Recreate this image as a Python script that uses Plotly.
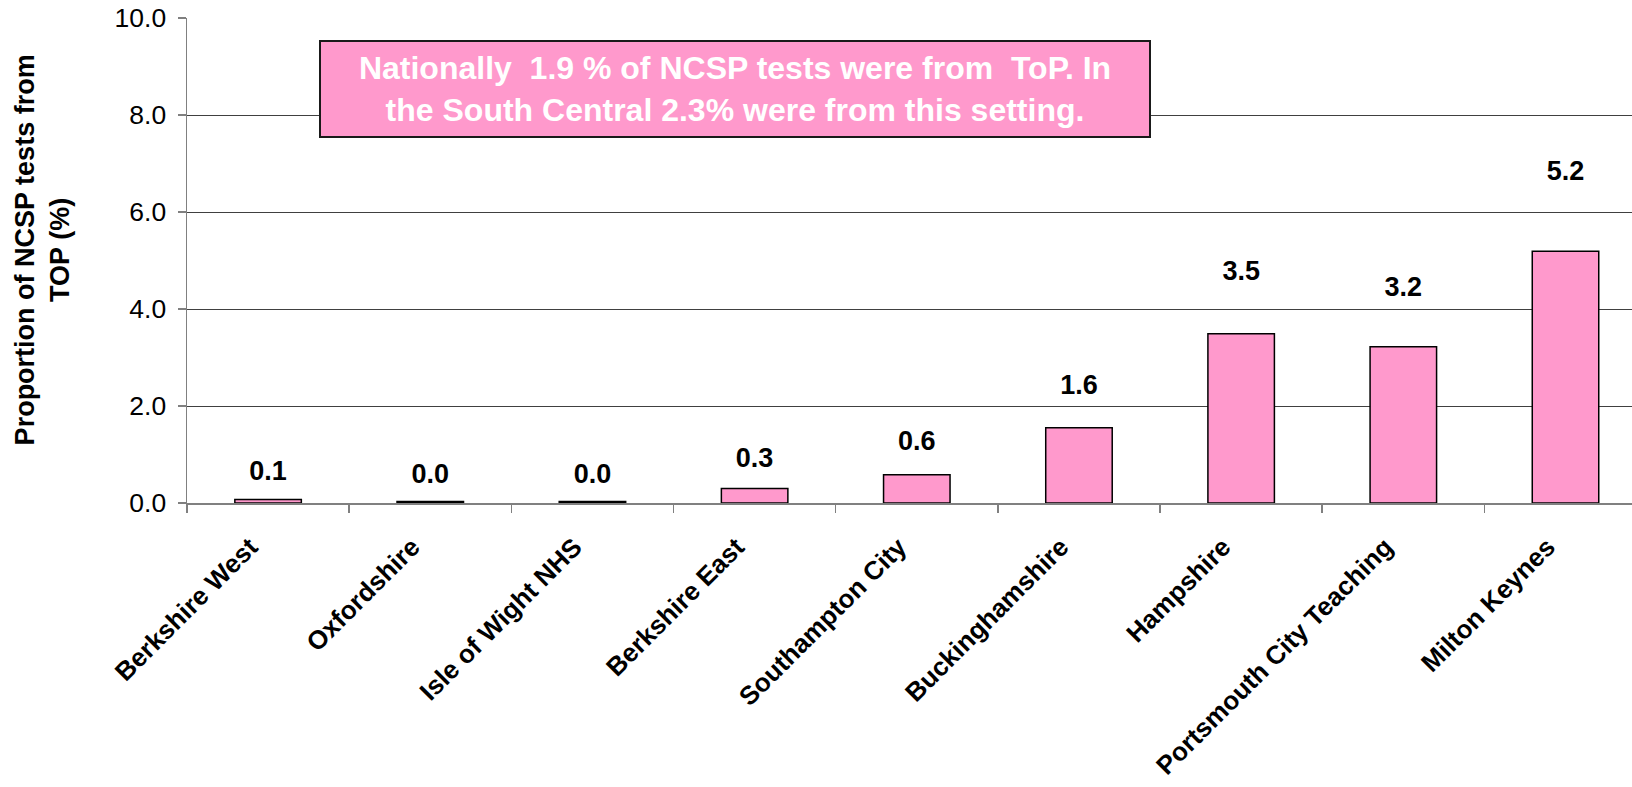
import plotly.graph_objects as go

categories = ["Berkshire West", "Oxfordshire", "Isle of Wight NHS", "Berkshire East",
              "Southampton City", "Buckinghamshire", "Hampshire",
              "Portsmouth City Teaching", "Milton Keynes"]
values = [0.07, 0.03, 0.03, 0.30, 0.58, 1.55, 3.49, 3.22, 5.19]
labels = ["0.1", "0.0", "0.0", "0.3", "0.6", "1.6", "3.5", "3.2", "5.2"]
y_ticks = [0, 2, 4, 6, 8, 10]
note_text = ("Nationally  1.9 % of NCSP tests were from  ToP. In<br>"
             "the South Central 2.3% were from this setting.")
y_title = "Proportion of NCSP tests from<br>TOP (%)"

FONT = "Arial, Liberation Sans, Helvetica, sans-serif"
PINK = "#FF99CC"

fig = go.Figure()
fig.add_trace(go.Bar(
    x=categories, y=values, width=0.41,
    marker=dict(color=PINK, line=dict(color="#000000", width=1.5)),
    hoverinfo="skip", showlegend=False,
))
# data labels, placed above bars as in the original chart
label_y = [v * 1.21 + 0.52 for v in values]
fig.add_trace(go.Scatter(
    x=categories, y=label_y, mode="text", text=labels,
    textposition="middle center",
    textfont=dict(family=FONT, size=27, color="#000000", weight="bold"),
    hoverinfo="skip", showlegend=False, cliponaxis=False,
))

fig.add_annotation(
    xref="paper", yref="paper", x=0.3795, y=0.8546,
    xanchor="center", yanchor="middle",
    text=note_text, showarrow=False, align="center",
    width=828, height=94, borderpad=0, borderwidth=2,
    bgcolor=PINK, bordercolor="#1a1a1a",
    font=dict(family=FONT, size=32, color="#FFFFFF", weight="bold"),
)

# y-axis title as a rotated annotation for precise placement
fig.add_annotation(
    xref="paper", yref="paper", x=-0.1003, y=0.521,
    xanchor="center", yanchor="middle",
    text=y_title, showarrow=False, align="center", textangle=-90,
    font=dict(family=FONT, size=27, color="#000000", weight="bold"),
)

fig.update_layout(
    width=1632, height=787,
    margin=dict(l=186.5, r=0, t=17.7, b=284.3, autoexpand=False),
    paper_bgcolor="#FFFFFF", plot_bgcolor="#FFFFFF",
    font=dict(family=FONT, color="#000000"),
    bargap=0.59,
)
fig.update_xaxes(
    type="category", range=[-0.5, 8.41],
    showline=True, linecolor="#808080", linewidth=1.5,
    ticks="outside", tickson="boundaries", ticklen=8, tickcolor="#808080", tickwidth=1.5,
    tickangle=-45, ticklabelstandoff=17, ticklabelshift=-18,
    tickfont=dict(family=FONT, size=26, color="#000000", weight="bold"),
    showgrid=False,
)
fig.update_yaxes(
    range=[0, 10], tickvals=y_ticks, tickformat=".1f",
    showline=True, linecolor="#808080", linewidth=1.5,
    ticks="outside", ticklen=8, tickcolor="#808080", tickwidth=1.5,
    ticklabelstandoff=6, ticklabeloverflow="allow",
    tickfont=dict(family=FONT, size=26.5, color="#000000"),
    showgrid=True, gridcolor="#404040", gridwidth=1,
    zeroline=False,
)

fig.write_html(
    "out.html",
    config={"displayModeBar": False, "staticPlot": True},
    post_script="document.body.style.margin='0';document.body.style.overflow='hidden';",
)
